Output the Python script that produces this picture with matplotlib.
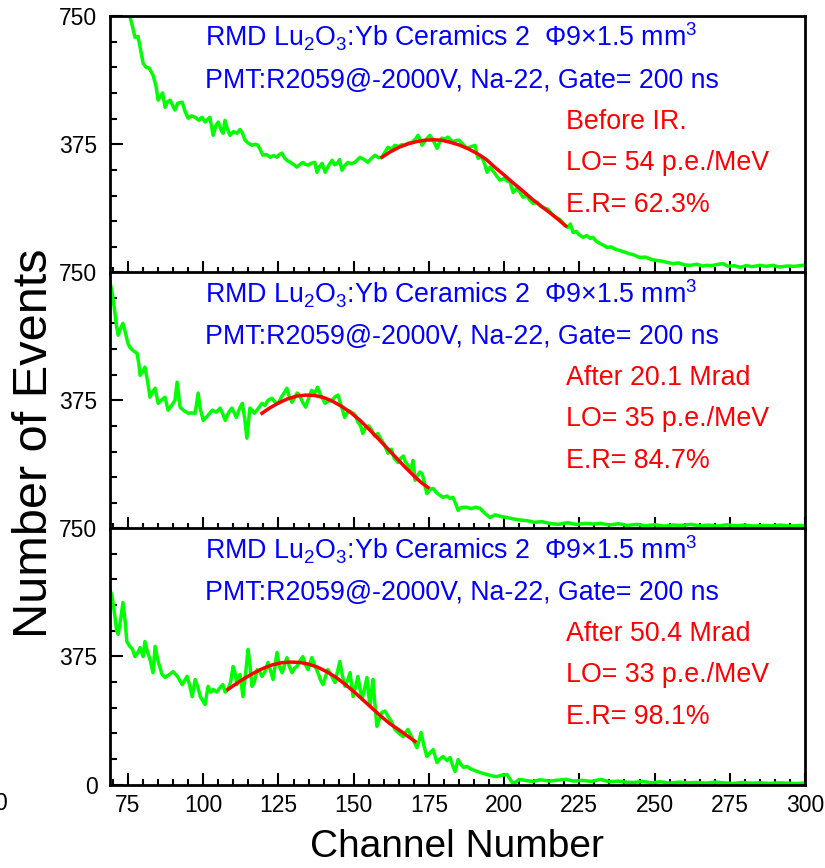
import numpy as np
import matplotlib as mpl
mpl.use('agg')
import matplotlib.pyplot as plt
from matplotlib.ticker import MultipleLocator

plt.rcParams['font.family'] = ['Liberation Sans', 'DejaVu Sans']
plt.rcParams['mathtext.fontset'] = 'custom'
plt.rcParams['mathtext.rm'] = 'Liberation Sans'
plt.rcParams['mathtext.it'] = 'Liberation Sans:italic'
plt.rcParams['mathtext.default'] = 'regular'

##--##--##--  data (channel, events)  --##--##--##
spec_before = [
    (69, 800), (71, 790), (73, 780), (74.5, 770), (75.6, 750), (76.5, 718), (77.3, 688), (78.3, 690),
    (79.2, 650), (80, 612), (81, 600), (82, 598), (83.3, 577), (84.3, 545), (85, 504), (85.6, 513),
    (86.5, 525), (87.3, 483), (88.2, 500), (89, 504), (90, 485), (90.6, 475), (91.5, 495), (93, 498),
    (94, 470), (95, 451), (96, 458), (97.3, 454), (98.5, 445), (99.6, 454), (100.6, 440), (101.5, 448),
    (102.2, 454), (103.3, 401), (104.2, 430), (105, 440), (106, 415), (106.6, 407), (107.2, 445), (108, 420),
    (108.9, 401), (110, 412), (111.2, 407), (112.2, 418), (112.9, 410), (113.9, 387), (115, 378), (116.2, 372),
    (117.2, 375), (118.2, 372), (119, 358), (119.8, 343), (121, 345), (122.2, 337), (123.3, 342), (124.5, 337),
    (125.3, 345), (126.2, 349), (127, 335), (127.8, 328), (129, 322), (130, 316), (131.1, 308), (132, 315),
    (133.1, 322), (134, 316), (134.8, 314), (136, 320), (137.1, 322), (137.8, 293), (138.7, 310), (139.5, 319),
    (140.5, 293), (141.6, 312), (142.8, 328), (143.7, 315), (144.5, 319), (145.3, 330), (146.1, 299), (147, 312),
    (148.1, 322), (149.2, 318), (150.4, 322), (151.3, 330), (152.1, 337), (153.5, 330), (154.7, 322), (156, 335),
    (157.1, 343), (158.2, 336), (159.4, 337), (160.4, 352), (161.4, 366), (162.5, 360), (163.7, 372), (165, 368),
    (166, 374), (167, 372), (168, 378), (169.4, 381), (170.5, 390), (171.4, 401), (172.2, 385), (172.7, 372),
    (174, 388), (175.3, 401), (176.5, 385), (177.7, 363), (178.5, 380), (179.3, 393), (180.3, 390), (181.3, 396),
    (182.2, 388), (183, 381), (184, 386), (185, 387), (186.3, 375), (187.6, 363), (189, 368), (190.3, 372),
    (191.3, 334), (192.5, 340), (193.5, 318), (194.3, 293), (195.3, 308), (196.5, 295), (197.5, 282), (198.6, 270),
    (200, 275), (201, 268), (202, 264), (203, 234), (204, 245), (205, 238), (206.3, 220), (207.5, 225),
    (208.5, 212), (209.6, 202), (211, 205), (212, 195), (213, 190), (214.5, 185), (215.5, 175), (216.3, 167),
    (217.5, 160), (218.5, 155), (219.5, 145), (220.2, 138), (221.2, 132), (222, 142), (222.9, 117), (224, 120),
    (225, 110), (226.2, 103), (227.5, 108), (228.5, 100), (229.5, 103), (230.5, 92), (231.8, 85), (233, 80),
    (234.2, 73), (235.5, 75), (237, 68), (238.5, 64), (240, 60), (241.5, 55), (243, 52), (245, 44),
    (247, 45), (249, 38), (250.8, 35), (252.5, 33), (254, 30), (256, 26), (258, 28), (260, 22),
    (261.8, 21), (264, 24), (266, 19), (267.4, 21), (269, 20), (271, 24), (272.7, 26), (274.5, 18),
    (276.5, 20), (278.4, 15), (280.5, 20), (282.5, 17), (285, 21), (287, 18), (289.3, 21), (291.5, 16),
    (294, 19), (296.5, 18), (299.3, 21), (300, 20)]

fit_before = [
    (159.4, 337), (162, 352), (165, 366), (168, 376), (171, 383), (174, 387), (176.5, 388), (179, 387),
    (182, 381), (185, 373), (188, 362), (191, 348), (194, 331), (197, 307), (200, 285), (203, 262),
    (206, 240), (209, 217), (212, 196), (215, 176), (218, 155), (220.5, 136)]

spec_20 = [
    (69, 720), (69.7, 691), (70.5, 640), (71.2, 590), (71.7, 565), (72.5, 585), (73.3, 600), (74.2, 570),
    (75, 540), (75.6, 530), (76.7, 520), (78, 512), (78.6, 480), (79, 448), (80, 460), (80.6, 472),
    (81.5, 430), (82.3, 384), (83.2, 400), (84, 410), (85, 366), (86, 375), (87.3, 384), (88.3, 346),
    (89.5, 360), (90.6, 375), (91.3, 428), (92.3, 355), (93.5, 345), (95, 337), (96, 338), (97.3, 337),
    (98.3, 396), (99, 350), (100, 316), (101.5, 330), (103, 346), (104.3, 340), (105.6, 352), (106.5, 335),
    (107.3, 316), (108.5, 340), (109.5, 352), (110.3, 338), (111, 325), (112, 350), (113, 366), (113.8, 320),
    (114.5, 264), (115.5, 352), (116.3, 345), (117, 337), (118.2, 350), (119.5, 366), (120.5, 360), (121.5, 375),
    (122.8, 381), (123.8, 370), (125, 366), (126, 385), (126.8, 395), (127.8, 410), (128.6, 385), (129.5, 369),
    (130.5, 385), (131.2, 396), (132, 390), (133, 370), (134, 355), (135, 380), (136, 404), (137, 395),
    (138, 413), (139, 390), (140.5, 366), (141.5, 372), (142.8, 375), (143.8, 385), (144.8, 390), (145.8, 360),
    (147, 325), (148.3, 345), (149.8, 337), (150.6, 330), (151.4, 311), (152.3, 300), (153, 278), (154, 295),
    (155, 300), (156, 287), (157, 270), (158, 278), (159, 262), (160.2, 245), (161.4, 220), (162.5, 232),
    (163.5, 205), (164.7, 193), (165.6, 205), (166.5, 212), (167.2, 195), (168, 185), (169, 170), (169.7, 199),
    (170.4, 141), (171.2, 155), (172, 165), (172.7, 161), (173.5, 135), (174.3, 102), (175.5, 115), (176.4, 117),
    (177.5, 105), (178.5, 98), (179.7, 91), (181, 95), (182, 88), (183, 91), (184, 70), (184.7, 53),
    (185.5, 60), (186.3, 62), (187.6, 62), (189, 58), (190.5, 62), (192, 59), (193.5, 45), (195.3, 32),
    (197, 40), (199, 35), (201, 32), (203, 28), (205, 25), (207.6, 23), (210, 18), (212.5, 20),
    (215, 15), (218, 12), (221, 17), (224, 12), (227, 15), (230, 13), (232, 15), (235, 10),
    (238, 14), (241, 9), (244, 12), (247, 8), (250, 11), (253, 7), (256, 10), (259, 9),
    (262, 12), (265, 8), (268, 10), (271, 7), (274, 11), (277, 8), (280, 10), (283, 7),
    (286, 9), (289, 8), (292, 10), (295, 7), (298, 9), (300, 8)]

fit_20 = [
    (119.5, 337), (122, 352), (125, 367), (128, 379), (131, 387), (134, 390), (137, 389), (140, 383),
    (143, 372), (146, 357), (149, 339), (152, 317), (155, 291), (158, 264), (161, 236), (164, 208),
    (167, 180), (170, 154), (172.5, 134), (174.7, 120)]

spec_50 = [
    (69, 570), (69.7, 550), (70.5, 500), (71.2, 450), (71.7, 439), (72.5, 480), (73.3, 532), (74, 480),
    (74.6, 418), (75.5, 405), (76.5, 395), (77.3, 374), (78.2, 385), (79, 400), (80, 374), (80.6, 418),
    (81.4, 390), (82.3, 365), (83.3, 327), (84, 404), (85, 360), (86.3, 322), (87.3, 313), (88.5, 320),
    (90, 330), (91.5, 315), (93, 292), (94.6, 316), (95.5, 290), (96.3, 257), (97.3, 307), (98.2, 285),
    (99, 257), (100.6, 234), (101.6, 287), (102.5, 270), (103.3, 278), (104.5, 270), (105.6, 284), (106.5, 292),
    (107.3, 270), (108.2, 278), (109.1, 300), (109.9, 345), (110.5, 330), (111.2, 292), (112.2, 322), (113.2, 257),
    (114, 320), (114.9, 395), (115.5, 350), (116.2, 287), (117, 300), (117.9, 336), (118.7, 330), (119.5, 316),
    (120.5, 330), (121.5, 357), (122.3, 335), (123.2, 307), (124.5, 386), (125.3, 345), (126.2, 327), (127, 350),
    (127.8, 371), (128.6, 345), (129.5, 327), (130.3, 340), (131.1, 345), (132, 360), (133.1, 374), (134, 350),
    (134.8, 336), (135.5, 355), (136.1, 371), (137, 350), (138.1, 327), (139, 305), (139.8, 292), (140.6, 315),
    (141.4, 336), (142.5, 320), (143.8, 298), (144.6, 330), (145.4, 360), (146.2, 320), (147.1, 287), (148, 305),
    (148.8, 327), (149.3, 290), (149.8, 257), (150.6, 285), (151.4, 316), (152.1, 280), (152.8, 249), (153.6, 280),
    (154.4, 313), (154.9, 270), (155.4, 228), (155.9, 270), (156.4, 307), (157, 240), (157.7, 170), (158.5, 190),
    (159.4, 211), (160.4, 215), (161.4, 199), (162.5, 185), (163.7, 161), (165, 150), (166.4, 140), (167.2, 152),
    (168, 161), (169.5, 135), (171, 108), (171.8, 130), (172.4, 152), (173.3, 115), (174.3, 82), (175.3, 92),
    (176.4, 102), (177.7, 64), (178.7, 75), (179.7, 82), (181, 70), (182, 79), (183, 53), (183.7, 38),
    (184.7, 73), (185.5, 60), (186.5, 50), (187.6, 53), (189, 45), (190.5, 40), (192, 35), (194, 30),
    (196, 25), (197.6, 23), (199, 27), (201, 29), (202, 15), (203, 2), (204, 8), (205, 15),
    (207, 12), (209.5, 9), (212, 14), (215, 10), (218, 13), (220.6, 15), (223, 10), (226, 12),
    (229, 9), (232, 15), (235, 8), (238, 10), (240, 7), (243, 6), (246, 9), (249, 5),
    (252, 8), (255, 4), (258, 7), (261, 5), (264, 6), (267, 4), (270, 7), (273, 5),
    (276, 3), (279, 6), (282, 4), (285, 5), (288, 3), (291, 5), (294, 4), (297, 3), (300, 4)]

fit_50 = [
    (108.2, 278), (111, 295), (114, 312), (117, 327), (120, 340), (123, 350), (126, 356), (129, 358),
    (132, 357), (135, 352), (138, 343), (141, 330), (144, 314), (147, 294), (150, 272), (153, 248),
    (156, 224), (159, 200), (162, 178), (165, 160), (168, 141), (170.4, 126)]

header1 = 'RMD Lu$_2$O$_3$:Yb Ceramics 2  \u03a69\u00d71.5 mm$^3$'
header2 = 'PMT:R2059@-2000V, Na-22, Gate= 200 ns'
states = ['Before IR.', 'After 20.1 Mrad', 'After 50.4 Mrad']
light_output = [54, 35, 33]
resolution = [62.3, 84.7, 98.1]

spectra = [spec_before, spec_20, spec_50]
fits = [fit_before, fit_20, fit_50]

##--##--##--  create figure  --##--##--##
W, H = 825, 868
fig = plt.figure(figsize=(W / 100, H / 100), dpi=100)

left, right = 110, 805
tops = [16, 272, 528]
ph = 256.5

def style_panel(ax, show_x, show_zero):
    ax.set_xlim(69, 300)
    ax.set_ylim(0, 750)
    for s in ax.spines.values():
        s.set_linewidth(2.0)
    ax.xaxis.set_major_locator(MultipleLocator(25))
    ax.xaxis.set_minor_locator(MultipleLocator(5))
    ax.set_yticks([0, 375, 750])
    ax.yaxis.set_minor_locator(MultipleLocator(75))
    ax.set_yticklabels(['0' if show_zero else '', '375', '750'])
    ax.tick_params(which='both', direction='in', top=False, right=False, width=1.5)
    ax.tick_params(axis='x', which='major', length=9, pad=7, labelsize=16.5)
    ax.tick_params(axis='x', which='minor', length=4.5)
    ax.tick_params(axis='y', which='major', length=9.5, pad=9, labelsize=16.5)
    ax.tick_params(axis='y', which='minor', length=5)
    if not show_x:
        ax.tick_params(axis='x', labelbottom=False)
    return ax

for i in range(3):
    y0 = (H - (tops[i] + ph)) / H
    ax = fig.add_axes([left / W, y0, (right - left) / W, ph / H])
    style_panel(ax, i == 2, i == 2)

    ch, cnt = np.array(spectra[i]).T
    ax.plot(ch, cnt, color='#00ff00', lw=2.5, zorder=2)
    fc, fv = np.array(fits[i]).T
    ax.plot(fc, fv, color='#ff0000', lw=2.5, zorder=3)

    tx = (205 - left) / (right - left)
    rx = (566 - left) / (right - left)
    ax.text(tx, 1 - 31 / ph, header1, transform=ax.transAxes, color='#0000ff', fontsize=19.3, va='baseline')
    ax.text(tx, 1 - 72 / ph, header2, transform=ax.transAxes, color='#0000ff', fontsize=19.3, va='baseline')
    ax.text(rx, 1 - 113 / ph, states[i], transform=ax.transAxes, color='#ff0000', fontsize=19.3, va='baseline')
    ax.text(rx, 1 - 154 / ph, 'LO= %d p.e./MeV' % light_output[i], transform=ax.transAxes,
            color='#ff0000', fontsize=19.3, va='baseline')
    ax.text(rx, 1 - 196 / ph, 'E.R= %.1f%%' % resolution[i], transform=ax.transAxes,
            color='#ff0000', fontsize=19.3, va='baseline')

fig.text(35 / W, 1 - 443 / H, 'Number of Events', rotation=90, ha='center', va='center', fontsize=35)
fig.text(457 / W, 1 - 847 / H, 'Channel Number', ha='center', va='center', fontsize=28)
## stray tick label clipped at the left edge, as in the original
fig.text(7 / W, 1 - 803 / H, '0', ha='right', va='center', fontsize=16.5)

fig.savefig('out.png', dpi=100)
